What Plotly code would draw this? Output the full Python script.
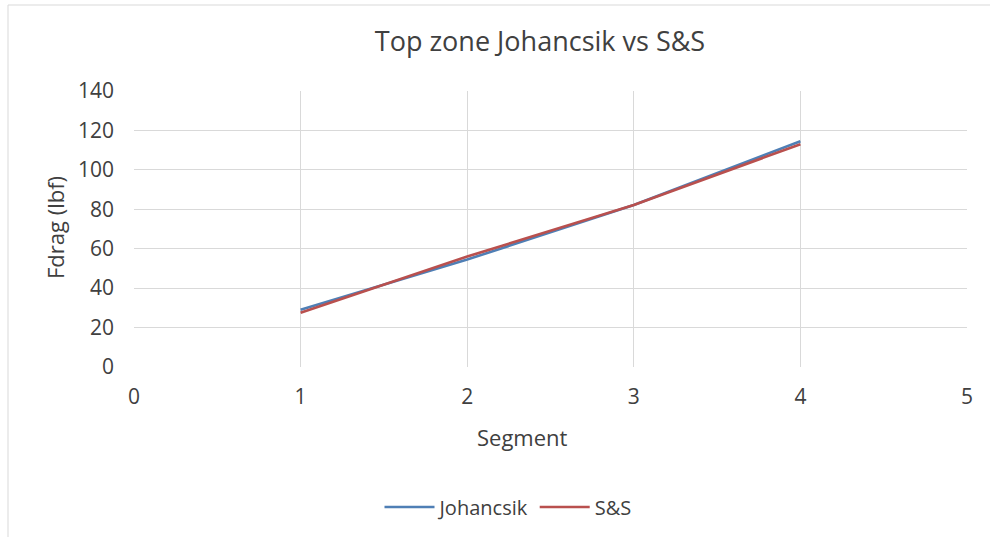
import plotly.graph_objects as go

segments = [1, 2, 3, 4]
johancsik = [29.0, 54.5, 82.2, 114.5]
s_and_s = [27.5, 56.0, 82.2, 113.0]

W, H = 990, 537
L, R, T, B = 134, 23, 91, 170
PW, PH = W - L - R, H - T - B

fig = go.Figure()
fig.add_trace(go.Scatter(x=segments, y=johancsik, mode="lines", name="Johancsik",
                         line=dict(color="#4F7FB5", width=2.6)))
fig.add_trace(go.Scatter(x=segments, y=s_and_s, mode="lines", name="S&S",
                         line=dict(color="#B9504E", width=2.6)))

font = "Open Sans, Liberation Sans, sans-serif"
txt = "#404040"
fig.update_layout(
    width=W, height=H,
    margin=dict(l=L, r=R, t=T, b=B),
    paper_bgcolor="white", plot_bgcolor="white",
    font=dict(family=font, color=txt, size=20),
    title=dict(text="Top zone Johancsik vs S&S", x=540 / W, xanchor="center",
               y=1 - 42 / H, yanchor="middle",
               font=dict(size=27, color=txt, family=font)),
    xaxis=dict(range=[0, 5], dtick=1, tick0=0, showgrid=True, gridcolor="#D9D9D9",
               gridwidth=1, zeroline=False, showline=False, ticks="",
               ticklabelstandoff=15,
               tickfont=dict(size=21, color=txt)),
    yaxis=dict(range=[0, 140], dtick=20, showgrid=True, gridcolor="#D9D9D9",
               gridwidth=1, zeroline=False, showline=False, ticks="",
               ticklabelstandoff=19,
               tickfont=dict(size=21, color=txt)),
    legend=dict(orientation="h", x=508 / W, xanchor="center", y=1 - 507 / H,
                yanchor="middle", xref="container", yref="container",
                font=dict(size=20, color=txt), itemwidth=50),
    showlegend=True,
)

# axis titles
fig.add_annotation(text="Segment", xref="paper", yref="paper",
                   x=(522 - L) / PW, y=-(437 - (H - B)) / PH,
                   xanchor="center", yanchor="middle", showarrow=False,
                   font=dict(size=22, color=txt, family=font))
fig.add_annotation(text="Fdrag (lbf)", xref="paper", yref="paper",
                   x=(55 - L) / PW, y=(H - B - 228) / PH,
                   xanchor="center", yanchor="middle", showarrow=False, textangle=-90,
                   font=dict(size=22, color=txt, family=font))

# outer chart border
fig.add_shape(type="rect", xref="paper", yref="paper",
              x0=(8 - L) / PW, x1=(W + 5 - L) / PW,
              y0=-(H + 5 - (H - B)) / PH, y1=1 + (T - 5) / PH,
              line=dict(color="#D9D9D9", width=1), fillcolor="rgba(0,0,0,0)", layer="below")

fig.write_html("out.html")
